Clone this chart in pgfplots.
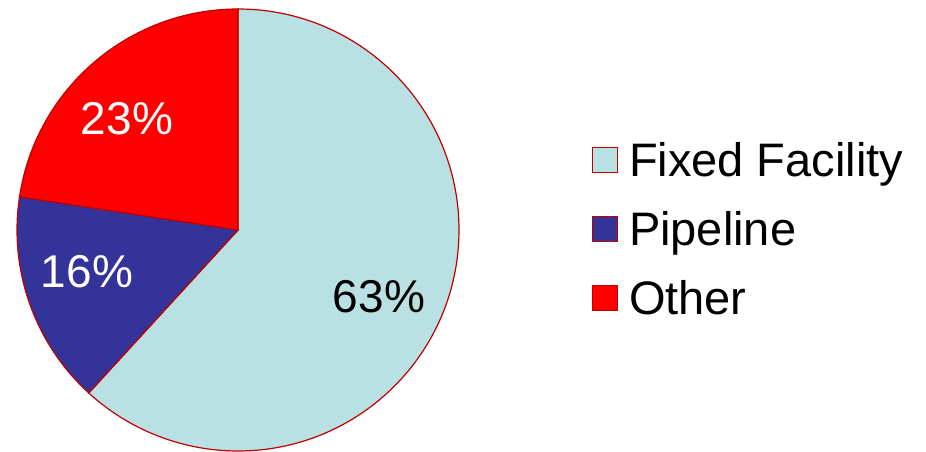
\documentclass[border=0pt]{standalone}
\usepackage{pgfplots}
\pgfplotsset{compat=1.18}
\usepackage{fontspec}
\setmainfont{Liberation Sans}
\definecolor{ffac}{HTML}{B9E0E3}
\definecolor{pipe}{HTML}{333399}
\definecolor{oth}{HTML}{FF0000}
\definecolor{edge}{HTML}{C00000}
% slice shares (percent)
\def\vA{61.8}% Fixed Facility
\def\vB{15.6}% Pipeline
\def\vC{22.6}% Other
\pgfmathsetmacro\aA{90}
\pgfmathsetmacro\aB{90-3.6*\vA}
\pgfmathsetmacro\aC{\aB-3.6*\vB}
\pgfmathsetmacro\aD{\aC-3.6*\vC}
\begin{document}
\begin{tikzpicture}
\begin{axis}[
  scale only axis, width=926pt, height=451pt,
  xmin=0, xmax=926, ymin=0, ymax=451,
  hide axis, clip=false,
  legend style={at={(axis cs:592,310)}, anchor=north west, draw=none, fill=none,
    font=\fontsize{47}{50}\selectfont, row sep=24pt, column sep=11pt,
    inner sep=0pt, outer sep=0pt,
    nodes={inner sep=0pt, text height=35pt, text depth=10pt}},
  legend cell align=left,
  legend image code/.code={\draw[#1, line width=1pt] (0pt,-9pt) rectangle (25pt,16pt);},
]
\addlegendimage{fill=ffac, draw=edge}
\addlegendentry{Fixed Facility}
\addlegendimage{fill=pipe, draw=edge}
\addlegendentry{Pipeline}
\addlegendimage{fill=oth, draw=edge}
\addlegendentry{Other}

\filldraw[fill=ffac, draw=edge, line width=1.2pt] (axis cs:238,221) -- ++(\aA:221pt) arc[start angle=\aA, end angle=\aB, radius=221pt] -- cycle;
\filldraw[fill=pipe, draw=edge, line width=1.2pt] (axis cs:238,221) -- ++(\aB:221pt) arc[start angle=\aB, end angle=\aC, radius=221pt] -- cycle;
\filldraw[fill=oth, draw=edge, line width=1.2pt] (axis cs:238,221) -- ++(\aC:221pt) arc[start angle=\aC, end angle=\aD, radius=221pt] -- cycle;

\node[white, font=\fontsize{46}{50}\selectfont] at (axis cs:127,332) {23\%};
\node[white, font=\fontsize{46}{50}\selectfont] at (axis cs:87,179) {16\%};
\node[black, font=\fontsize{46}{50}\selectfont] at (axis cs:379,154) {63\%};
\end{axis}
\pgfresetboundingbox
\path (current axis.south west) rectangle (current axis.north east);
\end{tikzpicture}
\end{document}
